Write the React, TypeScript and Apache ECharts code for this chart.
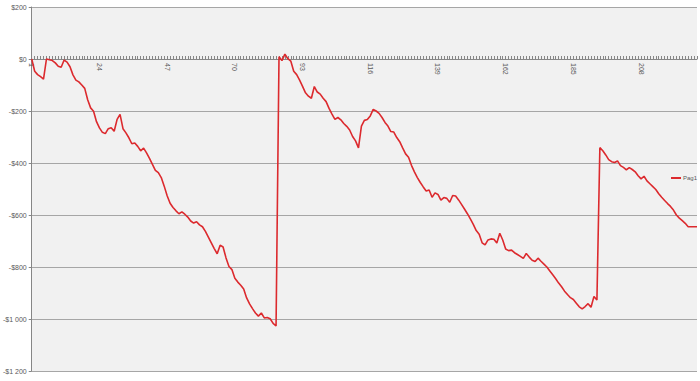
import React, { useEffect, useRef } from "react";
import * as echarts from "echarts";

const seriesName = "Pag1";

const values: number[] = [
  0, -47, -60, -68, -77, 0, -3, -6, -15, -28,
  -32, -4, -12, -30, -61, -81, -88, -100, -113, -157,
  -188, -201, -241, -265, -282, -287, -268, -264, -278, -232,
  -213, -268, -284, -303, -326, -323, -336, -353, -343, -361,
  -382, -405, -428, -437, -456, -489, -526, -555, -571, -584,
  -595, -588, -597, -608, -623, -631, -626, -638, -645, -663,
  -685, -707, -729, -749, -716, -723, -765, -798, -810, -843,
  -858, -870, -885, -919, -942, -960, -977, -989, -977, -996,
  -994, -999, -1017, -1027, 9, -6, 19, 1, -8, -47,
  -60, -81, -105, -130, -143, -151, -106, -127, -135, -151,
  -164, -190, -212, -232, -225, -234, -248, -259, -273, -298,
  -315, -342, -258, -236, -233, -219, -194, -200, -209, -225,
  -244, -258, -279, -281, -302, -318, -342, -365, -378, -409,
  -434, -456, -475, -492, -508, -504, -532, -515, -521, -543,
  -533, -536, -551, -525, -527, -542, -559, -577, -595, -615,
  -636, -660, -674, -707, -715, -696, -692, -693, -708, -670,
  -696, -731, -737, -735, -745, -752, -759, -767, -748, -762,
  -774, -779, -766, -778, -789, -800, -815, -830, -845, -862,
  -876, -893, -906, -918, -925, -939, -953, -961, -952, -941,
  -955, -913, -927, -341, -353, -369, -387, -395, -398, -392,
  -410, -417, -426, -418, -425, -434, -449, -461, -451, -469,
  -480, -491, -502, -518, -532, -544, -556, -567, -581, -600,
  -612, -622, -632, -645, -645, -645, -645,
];

const categories: string[] = values.map((_, i) => String(i + 1));

const yMin = -1200;
const yMax = 200;
const yStep = 200;

function fmtMoney(v: number): string {
  const abs = Math.abs(v);
  const s = abs >= 1000 ? `${Math.floor(abs / 1000)} ${String(abs % 1000).padStart(3, "0")}` : String(abs);
  return (v < 0 ? "-$" : "$") + s;
}

export default function App() {
  const ref = useRef<HTMLDivElement>(null);
  useEffect(() => {
    document.body.style.margin = "0";
    if (!ref.current) return;
    const chart = echarts.init(ref.current, undefined, { renderer: "svg" });
    const plotTop = 7;
    const plotHeight = 381 - 7 - 10;
    const zeroOffset = -Math.round(((yMax - 0) / (yMax - yMin)) * plotHeight);
    chart.setOption({
      animation: false,
      backgroundColor: "#ffffff",
      textStyle: { fontFamily: "Liberation Sans, Arial, sans-serif" },
      grid: {
        left: 29,
        right: 3,
        top: plotTop,
        bottom: 10,
        show: true,
        backgroundColor: "#f1f1f1",
        borderWidth: 0,
      },
      legend: {
        left: 666,
        top: 170,
        itemWidth: 10,
        itemHeight: 2,
        itemGap: 0,
        icon: "rect",
        textStyle: { fontSize: 6, color: "#595959", padding: [0, 0, 0, -3] },
        data: [seriesName],
      },
      xAxis: {
        type: "category",
        position: "top",
        offset: zeroOffset,
        data: categories,
        boundaryGap: false,
        axisLine: { onZero: false, lineStyle: { color: "#868686", width: 1 } },
        axisTick: { show: true, interval: 0, length: 3, lineStyle: { color: "#868686" } },
        axisLabel: {
          inside: true,
          interval: 22,
          rotate: 90,
          fontSize: 7,
          color: "#595959",
          margin: 4,
        },
        splitLine: { show: false },
      },
      yAxis: {
        type: "value",
        min: yMin,
        max: yMax,
        interval: yStep,
        axisLine: { show: true, lineStyle: { color: "#868686", width: 1 } },
        axisTick: { show: true, length: 3, lineStyle: { color: "#868686" } },
        axisLabel: {
          fontSize: 7,
          color: "#595959",
          margin: 5,
          formatter: (v: number) => fmtMoney(v),
        },
        splitLine: { show: true, lineStyle: { color: "#a6a6a6", width: 1 } },
      },
      series: [
        {
          name: seriesName,
          type: "line",
          data: values,
          showSymbol: false,
          symbol: "none",
          lineStyle: { color: "#dc2a2e", width: 1.6 },
          itemStyle: { color: "#dc2a2e" },
        },
      ],
    });
    return () => chart.dispose();
  }, []);
  return <div ref={ref} style={{ width: 700, height: 381 }} />;
}
